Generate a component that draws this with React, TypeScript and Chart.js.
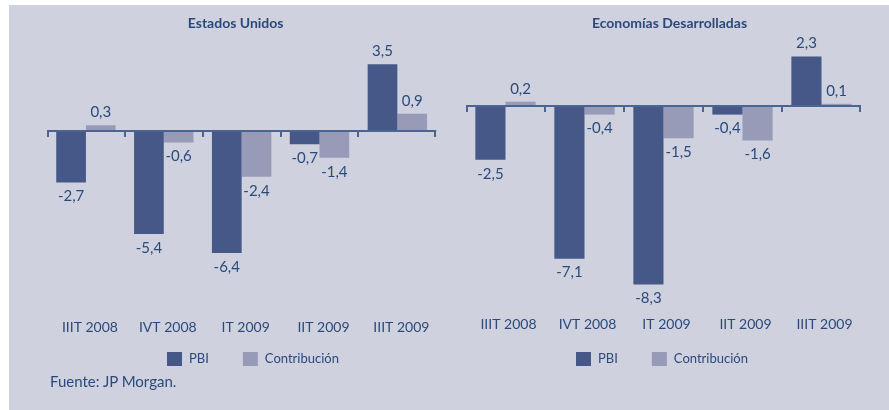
import React, { useEffect, useRef } from "react";
import { Chart, registerables } from "chart.js";

Chart.register(...registerables);

// ---------- data ----------
const categories = ["IIIT 2008", "IVT 2008", "IT 2009", "IIT 2009", "IIIT 2009"];
const seriesNames = ["PBI", "Contribución"];
const usPBI = [-2.7, -5.4, -6.4, -0.7, 3.5];
const usContribucion = [0.3, -0.6, -2.4, -1.4, 0.9];
const devPBI = [-2.5, -7.1, -8.3, -0.4, 2.3];
const devContribucion = [0.2, -0.4, -1.5, -1.6, 0.1];
const chartTitles = ["Estados Unidos", "Economías Desarrolladas"];
const sourceNote = "Fuente: JP Morgan.";

// ---------- styles ----------
const COLOR_PBI = "#465887";
const COLOR_CONTRIB = "#989bb7";
const TEXT = "#2a4a7c";
const AXIS = "#4a6590";
const PANEL = "#cfd1de";
const FONT = "Lato, 'Open Sans', sans-serif";
const H = 410;

const fmt = (v: number) => v.toFixed(1).replace(".", ",");

const decorPlugin = {
  id: "decor",
  afterDatasetsDraw(chart: any, _args: any, opts: any) {
    const { ctx, chartArea, scales } = chart;
    const xs = scales.x;
    const ys = scales.y;
    const y0 = Math.round(ys.getPixelForValue(0));
    ctx.save();

    // zero axis line with downward ticks at category boundaries
    ctx.strokeStyle = AXIS;
    ctx.lineWidth = 2;
    ctx.beginPath();
    ctx.moveTo(chartArea.left, y0);
    ctx.lineTo(chartArea.right, y0);
    ctx.stroke();
    const n = categories.length;
    const step = xs.getPixelForValue(1) - xs.getPixelForValue(0);
    for (let i = 0; i <= n; i++) {
      let px = xs.getPixelForValue(0) - step / 2 + i * step;
      px = Math.min(Math.max(px, chartArea.left + 1), chartArea.right - 1);
      ctx.beginPath();
      ctx.moveTo(Math.round(px), y0 - 1);
      ctx.lineTo(Math.round(px), y0 + 6);
      ctx.stroke();
    }

    // value labels
    ctx.font = `15px ${FONT}`;
    ctx.fillStyle = TEXT;
    ctx.textAlign = "center";
    ctx.textBaseline = "middle";
    chart.data.datasets.forEach((ds: any, di: number) => {
      const meta = chart.getDatasetMeta(di);
      meta.data.forEach((el: any, i: number) => {
        const v = ds.data[i] as number;
        const ty = v >= 0 ? el.y - 13 : el.y + 14;
        ctx.fillText(fmt(v), el.x, ty);
      });
    });

    // title
    ctx.font = `bold 14px ${FONT}`;
    ctx.fillText(opts.title, (chartArea.left + chartArea.right) / 2 + opts.titleShift, opts.titleY);

    // legend
    ctx.font = `13px ${FONT}`;
    ctx.textAlign = "left";
    let lx = opts.legendX;
    const ly = opts.legendY;
    chart.data.datasets.forEach((ds: any) => {
      ctx.fillStyle = ds.backgroundColor;
      ctx.fillRect(lx, ly - 7, 15, 14);
      ctx.fillStyle = TEXT;
      ctx.fillText(ds.label, lx + 22, ly);
      lx += 22 + ctx.measureText(ds.label).width + 34;
    });

    ctx.restore();
  },
};

type PanelOpts = {
  pbi: number[];
  contrib: number[];
  title: string;
  padLeft: number;
  padRight: number;
  padBottom: number;
  tickPad: number;
  labelOffset: number;
  min: number;
  max: number;
  titleShift: number;
  legendX: number;
};

function makeConfig(o: PanelOpts): any {
  return {
    type: "bar",
    data: {
      labels: categories,
      datasets: [
        {
          label: seriesNames[0],
          data: o.pbi,
          backgroundColor: COLOR_PBI,
          borderWidth: 0,
          categoryPercentage: 0.763,
          barPercentage: 1,
        },
        {
          label: seriesNames[1],
          data: o.contrib,
          backgroundColor: COLOR_CONTRIB,
          borderWidth: 0,
          categoryPercentage: 0.763,
          barPercentage: 1,
        },
      ],
    },
    options: {
      animation: false,
      responsive: false,
      maintainAspectRatio: false,
      layout: { padding: { left: o.padLeft, right: o.padRight, top: 40, bottom: o.padBottom } },
      plugins: {
        legend: { display: false },
        tooltip: { enabled: false },
        title: { display: false },
        decor: {
          title: o.title,
          titleShift: o.titleShift,
          titleY: 23,
          legendX: o.legendX,
          legendY: 359,
        },
      },
      scales: {
        x: {
          grid: { display: false, drawTicks: false },
          border: { display: false },
          ticks: {
            color: TEXT,
            font: { family: FONT, size: 14 },
            padding: o.tickPad,
            labelOffset: o.labelOffset,
            maxRotation: 0,
            autoSkip: false,
          },
        },
        y: { display: false, min: o.min, max: o.max },
      },
    },
    plugins: [decorPlugin],
  };
}

function BarPanel({ opts, left, width }: { opts: PanelOpts; left: number; width: number }) {
  const ref = useRef<HTMLCanvasElement>(null);
  useEffect(() => {
    const chart = new Chart(ref.current as HTMLCanvasElement, makeConfig(opts));
    return () => chart.destroy();
  }, []);
  return (
    <canvas
      ref={ref}
      width={width}
      height={H}
      style={{ position: "absolute", left, top: 0, width, height: H }}
    />
  );
}

// chart area: top 40, bottom 300 (x-axis height = 2*pad + 16.8)
const leftOpts: PanelOpts = {
  pbi: usPBI,
  contrib: usContribucion,
  title: chartTitles[0],
  padLeft: 47,
  padRight: 5,
  padBottom: 55,
  tickPad: 19.1,
  labelOffset: 4,
  min: -8.871,
  max: 4.777,
  titleShift: -6,
  legendX: 167,
};

const rightOpts: PanelOpts = {
  pbi: devPBI,
  contrib: devContribucion,
  title: chartTitles[1],
  padLeft: 21,
  padRight: 28,
  padBottom: 62,
  tickPad: 15.6,
  labelOffset: 3,
  min: -9.023,
  max: 3.07,
  titleShift: 6,
  legendX: 131,
};

export default function App() {
  return (
    <div
      style={{
        position: "absolute",
        left: 0,
        top: 0,
        width: 889,
        height: H,
        background: "#ffffff",
        overflow: "hidden",
      }}
    >
      <div
        style={{ position: "absolute", left: 9, top: 5, width: 880, height: 405, background: PANEL }}
      />
      <BarPanel opts={leftOpts} left={0} width={445} />
      <BarPanel opts={rightOpts} left={445} width={444} />
      <div
        style={{
          position: "absolute",
          left: 50,
          top: 372,
          fontFamily: FONT,
          fontSize: 15,
          lineHeight: "19px",
          color: TEXT,
          whiteSpace: "nowrap",
        }}
      >
        {sourceNote}
      </div>
    </div>
  );
}
